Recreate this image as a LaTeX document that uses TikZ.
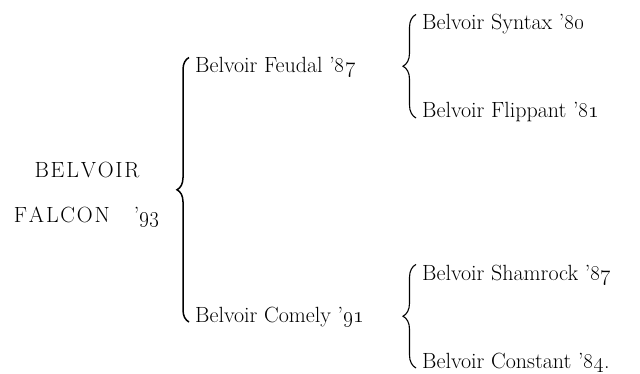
\RequirePackage{fix-cm}
\documentclass[tikz,border=0pt]{standalone}
\usetikzlibrary{decorations.pathreplacing}
\makeatletter
\newcommand\spacedcaps[1]{\@tfor\spc@l:=#1\do{\spc@l\kern1.8pt}\unkern}
\makeatother

\begin{document}
\begin{tikzpicture}[x=1pt, y=-1pt,
        entry/.style={anchor=base west, inner sep=0pt},
        bigbrace/.style={decorate, decoration={brace, amplitude=12pt}, line width=1.5pt},
        smallbrace/.style={decorate, decoration={brace, amplitude=13pt}, line width=1.1pt}]
        \useasboundingbox (0,0) rectangle (640,374);
        \fontsize{22}{45}\selectfont
        \coordinate (p) at (87,194);
        \coordinate (s) at (195,73);
        \coordinate (d) at (195,322);
        \coordinate (ss) at (422,30);
        \coordinate (sd) at (422,118);
        \coordinate (ds) at (422,280);
        \coordinate (dd) at (422,368);
        \node[align=center, inner sep=0pt] (falcon) at (p) {\spacedcaps{BELVOIR}\\\spacedcaps{FALCON}\hspace{24pt}'\oldstylenums{93}};
        \node[entry] (feudal) at (s) {Belvoir Feudal '\oldstylenums{87}};
        \node[entry] (comely) at (d) {Belvoir Comely '\oldstylenums{91}};
        \node[entry] (syntax) at (ss) {Belvoir Syntax '\oldstylenums{80}};
        \node[entry] (flippant) at (sd) {Belvoir Flippant '\oldstylenums{81}};
        \node[entry] (shamrock) at (ds) {Belvoir Shamrock '\oldstylenums{87}};
        \node[entry] (constant) at (dd) {Belvoir Constant '\oldstylenums{84}.};
        \draw[bigbrace] ([xshift=-6pt]comely.base west) -- ([xshift=-6pt]feudal.north west);
        \draw[smallbrace] ([xshift=-6pt]flippant.base west) -- ([xshift=-6pt]syntax.north west);
        \draw[smallbrace] ([xshift=-6pt]constant.base west) -- ([xshift=-6pt]shamrock.north west);
\end{tikzpicture}
\end{document}
